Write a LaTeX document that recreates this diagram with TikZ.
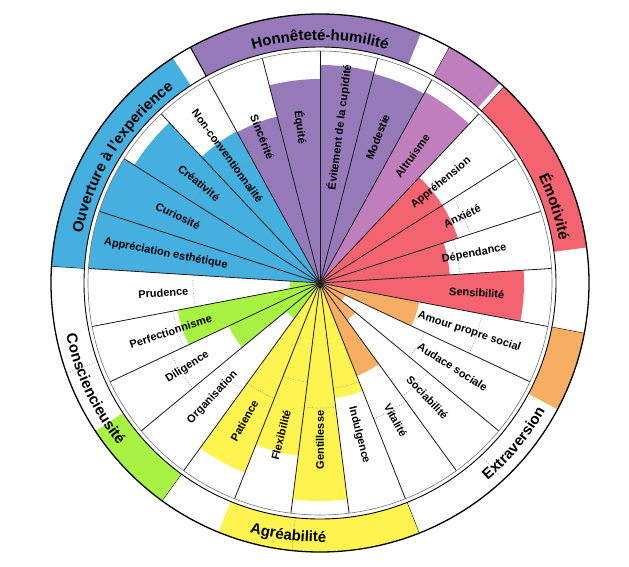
\documentclass[tikz,border=0pt]{standalone}
\usepackage{fontspec}
\setmainfont{Liberation Sans}
\usepackage{tikz}
\usetikzlibrary{decorations.text}

\definecolor{hon}{HTML}{9579B9}
\definecolor{alt}{HTML}{C07FBC}
\definecolor{emo}{HTML}{F36470}
\definecolor{ext}{HTML}{F8AE62}
\definecolor{agr}{HTML}{FFF350}
\definecolor{con}{HTML}{A8F244}
\definecolor{ouv}{HTML}{45AFE0}

\newcommand{\domfont}{\bfseries\fontsize{15}{18}\selectfont}
\tikzset{
  normline/.style={black!45, line width=0.6pt, dash pattern=on 0.8pt off 1.8pt},
  spoke/.style={black!90, line width=0.8pt},
  domtext/.style={decorate, decoration={text along path, text align=center, text={|\domfont|#1}}}
}
\def\facettes{%
0/hon/204/135/Équité,
1/hon/172/130/Sincérité,
2/ouv/173/140/Non-conventionnalité,
3/ouv/220/150/Créativité,
4/ouv/232/137/Curiosité,
5/ouv/232/135/Appréciation esthétique,
6/con/30/127/Prudence,
7/con/145/150/Perfectionnisme,
8/con/101/165/Diligence,
9/con/44/132/Organisation,
10/agr/204/124/Patience,
11/agr/174/100/Flexibilité,
12/agr/218/125/Gentillesse,
13/agr/116/106/Indulgence,
14/ext/100/146/Vitalité,
15/ext/46/140/Sociabilité,
16/ext/28/116/Audace sociale,
17/ext/101/165/Amour propre social,
18/emo/204/150/Sensibilité,
19/emo/130/140/Dépendance,
20/emo/145/158/Anxiété,
21/emo/145/120/Appréhension,
22/alt/218/168/Altruisme,
23/hon/216/147/Modestie,
24/hon/218/136/Évitement de la cupidité}

\begin{document}
\begin{tikzpicture}
  \useasboundingbox (-320pt,-283pt) rectangle (309pt,283pt);
  \foreach \k/\col/\sc/\nm/\txt in \facettes
  {
    \pgfmathsetmacro{\deb}{90+14.4*\k}
    \pgfmathsetmacro{\fin}{\deb+14.4}
    \fill[\col] (0,0) -- (\deb:\sc pt) arc[start angle=\deb, end angle=\fin, radius=\sc pt] -- cycle;
    \draw[normline] (\deb:\nm pt) arc[start angle=\deb, end angle=\fin, radius=\nm pt];
  }
  \foreach \k in {0,...,24}
  {
    \draw[spoke] (0,0) -- ({90+14.4*\k}:232pt);
  }
  \foreach \col/\s/\e/\f/\nm in {hon/61.2/118.8/68/87, alt/46.8/61.2/48/50.5, emo/-10.8/46.8/7.6/10.8, ext/291.6/349.2/332/313, agr/234/291.6/247.8/264, con/176.4/234/213.4/199.5, ouv/118.8/176.4/123.2/141.7}
  {
    \fill[\col] (\f:236pt) arc[start angle=\f, end angle=\e, radius=236pt] -- (\e:269pt) arc[start angle=\e, end angle=\f, radius=269pt] -- cycle;
    \draw[normline] (\nm:236pt) -- (\nm:269pt);
    \draw[line width=1pt] (\s:236pt) -- (\s:269pt);
  }
  \draw[black!55, line width=0.6pt] (0,0) circle[radius=232pt];
  \draw[line width=0.9pt] (0,0) circle[radius=236pt];
  \draw[line width=1.3pt] (0,0) circle[radius=269pt];
  \path[domtext=Honnêteté-humilité] (118.8:243pt) arc[start angle=118.8, end angle=61.2, radius=243pt];
  \path[domtext=Ouverture à l'experience] (176.4:243pt) arc[start angle=176.4, end angle=118.8, radius=243pt];
  \path[domtext=Émotivité] (46.8:243pt) arc[start angle=46.8, end angle=-10.8, radius=243pt];
  \path[domtext=Extraversion] (291.6:259pt) arc[start angle=291.6, end angle=349.2, radius=259pt];
  \path[domtext=Agréabilité] (234:259pt) arc[start angle=234, end angle=291.6, radius=259pt];
  \path[domtext=Consciencieusité] (176.4:259pt) arc[start angle=176.4, end angle=234, radius=259pt];
  \begin{scope}[every node/.style={font=\bfseries\fontsize{11}{13}\selectfont, inner sep=0pt}]
    \foreach \k/\col/\sc/\nm/\txt in \facettes
    {
      \pgfmathsetmacro{\mil}{97.2+14.4*\k}
      \pgfmathsetmacro{\rot}{\mil<=270 ? \mil-180 : \mil}
      \node[rotate=\rot] (f\k) at (\mil:157pt) {\txt};
    }
  \end{scope}
\end{tikzpicture}
\end{document}
